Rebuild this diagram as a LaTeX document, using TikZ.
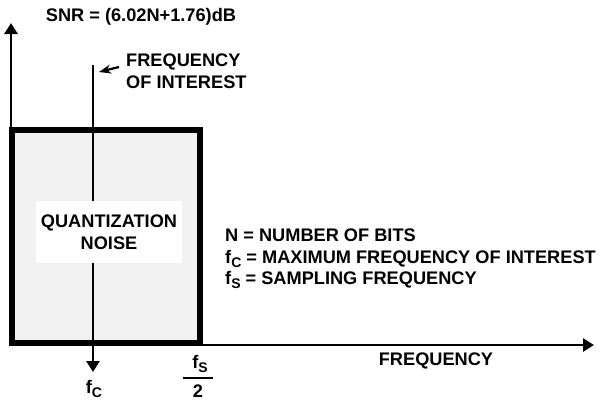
\documentclass[tikz,border=0pt]{standalone}
\usepackage{fontspec}
\setmainfont{Liberation Sans}
\usetikzlibrary{arrows.meta,positioning}
\newcommand{\lowsub}[1]{\raisebox{-0.4ex}{\fontsize{14}{14}\selectfont #1}}
\tikzset{
  lbl/.style={font=\fontsize{18.2}{21.5}\selectfont\bfseries, inner sep=0pt},
  axis/.style={line width=2.8pt, -{Triangle[width=13pt,length=11pt]}},
}
\begin{document}
\begin{tikzpicture}[x=1pt,y=-1pt]
    \useasboundingbox (0,0) rectangle (606,400);
    % axes
    \coordinate (origin) at (11,345);
    \coordinate (ytip) at (11,23);
    \coordinate (xtip) at (594,345);
    \draw[axis] (origin) -- (ytip);
    \draw[axis] (origin) -- (xtip);
    % noise box
    \draw[line width=6.5pt, fill=black!5] (12,130) rectangle (200,343);
    % frequency of interest
    \coordinate (fctop) at (93,65);
    \coordinate (fcbot) at (93,372);
    \draw[axis] (fctop) -- (fcbot);
    \node[lbl, fill=white, minimum width=146pt, minimum height=62pt, align=center] (qnoise) at (109,232) {QUANTIZATION\\NOISE};
    \node[lbl, anchor=north west, align=left] (interest) at (126,54) {FREQUENCY\\OF INTEREST};
    \coordinate (pointer) at (99,72);
    \draw[line width=2.2pt, -{Stealth[length=12pt,width=9pt]}] (119,67) -- (pointer);
    % labels
    \node[lbl] (snr) at (141,17) {SNR = (6.02N+1.76)dB};
    \node[lbl] (freq) at (436,361) {FREQUENCY};
    \node[lbl] (fc) at (94,389) {f\lowsub{C}};
    \node[lbl] (fs) at (200,364) {f\lowsub{S}};
    \node[lbl] (two) at (198,391) {2};
    \draw[line width=2.3pt] (183,378) -- (213,378);
    \node[lbl, anchor=west, align=left] (legend) at (225,259) {N = NUMBER OF BITS\\f\lowsub{C} = MAXIMUM FREQUENCY OF INTEREST\\f\lowsub{S} = SAMPLING FREQUENCY};
\end{tikzpicture}
\end{document}
